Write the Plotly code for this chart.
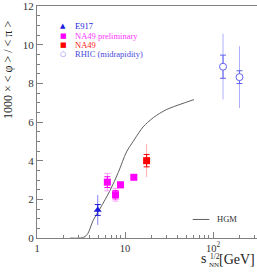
import plotly.graph_objects as go

# ---- data ----
e917_x = [4.9]
e917_y = [1.45]
e917_stat = [0.28]
e917_sys = [0.77]

na49p_x = [6.3, 7.8, 8.9, 12.6]
na49p_y = [2.89, 2.24, 2.75, 3.14]
na49p_stat = [0.28, 0.22, 0.10, 0.07]
na49p_sys = [0.45, 0.33, 0.15, 0.10]

na49_x = [17.6]
na49_y = [4.0]
na49_stat = [0.32]
na49_sys = [0.85]

rhic_x = [130, 200]
rhic_y = [8.86, 8.32]
rhic_stat = [0.6, 0.33]
rhic_sys = [1.7, 1.6]

hgm_x = [2.4, 3.3, 3.7, 4.36, 5.2, 6.76, 8.4, 10.4, 12.4, 14.4, 16.1, 20.9, 29.8, 42.2, 60.8]
hgm_y = [0.0, 0.02, 0.17, 0.92, 1.52, 2.46, 3.40, 4.45, 5.0, 5.45, 5.75, 6.22, 6.65, 6.91, 7.16]

x_major = [1, 10, 100]
x_major_text = ["1", "10", "10<sup>2</sup>"]
x_minor = [2, 3, 4, 5, 6, 7, 8, 9, 20, 30, 40, 50, 60, 70, 80, 90, 200, 300]
y_major = [0, 2, 4, 6, 8, 10, 12]

SERIF = "Liberation Serif"
AX = "#808080"

fig = go.Figure()

# HGM curve
fig.add_trace(go.Scatter(x=hgm_x, y=hgm_y, mode="lines", line=dict(color="#606060", width=1, shape="spline"),
                         hoverinfo="skip"))

def add_series(x, y, stat, sys, color, light, symbol, size, sys_cap, fill=None):
    fig.add_trace(go.Scatter(x=x, y=y, mode="markers", marker=dict(size=0.1, color=light, opacity=0),
                             error_y=dict(type="data", array=sys, color=light, thickness=1, width=sys_cap)))
    fig.add_trace(go.Scatter(x=x, y=y, mode="markers",
                             marker=dict(symbol=symbol, size=size,
                                         color=fill if fill else color,
                                         line=dict(color=color, width=1 if fill else 0)),
                             error_y=dict(type="data", array=stat, color=color, thickness=1, width=3)))

add_series(e917_x, e917_y, e917_stat, e917_sys, "#1a1adc", "#8080f0", "triangle-up", 7, 0)
add_series(na49p_x, na49p_y, na49p_stat, na49p_sys, "#ff00ff", "#ff9cff", "square", 7, 3)
add_series(na49_x, na49_y, na49_stat, na49_sys, "#ff0000", "#ffaaaa", "square", 7, 0)
add_series(rhic_x, rhic_y, rhic_stat, rhic_sys, "#6262ee", "#b0b0ff", "circle", 7, 0, fill="white")

fig.update_layout(
    width=257, height=273,
    margin=dict(l=37, r=0, t=4, b=35),
    paper_bgcolor="white", plot_bgcolor="white",
    showlegend=False,
    font=dict(family=SERIF, color="#333333"),
    xaxis=dict(type="log", range=[0, 2.5], showgrid=False, zeroline=False,
               showline=True, linecolor=AX, linewidth=1, mirror=True,
               ticks="inside", ticklen=6, tickcolor=AX,
               tickvals=x_major, ticktext=x_major_text,
               tickfont=dict(family=SERIF, size=10.5, color="#333333"),
               minor=dict(ticks="inside", ticklen=3, tickcolor=AX, tickvals=x_minor, showgrid=False)),
    yaxis=dict(range=[0, 12], showgrid=False, zeroline=False,
               showline=True, linecolor=AX, linewidth=1, mirror=False,
               ticks="inside", ticklen=6, tickcolor=AX, tickvals=y_major,
               ticklabeloverflow="allow",
               tickfont=dict(family=SERIF, size=11, color="#333333"),
               minor=dict(ticks="inside", ticklen=3, tickcolor=AX, dtick=0.5, showgrid=False)),
)

ann = []
# y title
ann.append(dict(text="1000 × < φ > / < π >", textangle=-90, xref="paper", yref="paper",
                x=-0.132, y=0.724, xanchor="center", yanchor="middle", showarrow=False,
                font=dict(family=SERIF, size=12, color="#222222")))
# x title pieces
ann.append(dict(text="s", xref="paper", yref="paper", x=(208 - 37) / 220, y=(238 - 259) / 234,
                xanchor="right", yanchor="middle", showarrow=False, font=dict(family=SERIF, size=14, color="#222222")))
ann.append(dict(text="NN", xref="paper", yref="paper", x=(207 - 37) / 220, y=(238 - 265) / 234,
                xanchor="left", yanchor="middle", showarrow=False, font=dict(family=SERIF, size=7, color="#222222")))
ann.append(dict(text="1/2", xref="paper", yref="paper", x=(208 - 37) / 220, y=(238 - 257) / 234,
                xanchor="left", yanchor="middle", showarrow=False, font=dict(family=SERIF, size=7.5, color="#222222")))
ann.append(dict(text="[GeV]", xref="paper", yref="paper", x=(217 - 37) / 220, y=(238 - 260) / 234,
                xanchor="left", yanchor="middle", showarrow=False, font=dict(family=SERIF, size=14, color="#222222")))

# legend
leg = [("▲", "E917", "#1a1adc", "#1a1adc", 24),
       ("■", "NA49 preliminary", "#ff00ff", "#ff33ff", 34),
       ("■", "NA49", "#ff0000", "#ff2020", 43.3),
       ("○", "RHIC (midrapidity)", "#6060ee", "#4848d8", 52.7)]
for sym, lab, mc, tc, ypx in leg:
    ann.append(dict(text=sym, xref="paper", yref="paper", x=(63.3 - 37) / 220, y=(238 - ypx) / 234,
                    xanchor="center", yanchor="middle", showarrow=False,
                    font=dict(family="DejaVu Sans", size=7, color=mc)))
    ann.append(dict(text=lab, xref="paper", yref="paper", x=(72.5 - 37) / 220, y=(238 - ypx) / 234,
                    xanchor="left", yanchor="middle", showarrow=False,
                    font=dict(family=SERIF, size=8.5, color=tc)))

# HGM legend
ann.append(dict(text="HGM", xref="paper", yref="paper", x=(214.5 - 37) / 220, y=(238 - 219.3) / 234,
                xanchor="left", yanchor="middle", showarrow=False,
                font=dict(family=SERIF, size=8.5, color="#333333")))
fig.update_layout(annotations=ann)
fig.add_shape(type="line", xref="paper", yref="paper",
              x0=(192.7 - 37) / 220, x1=(209.3 - 37) / 220,
              y0=(238 - 219.3) / 234, y1=(238 - 219.3) / 234,
              line=dict(color="#606060", width=1))

fig.write_html("out.html", config={"displayModeBar": False},
               post_script="document.body.style.margin='0px';")
